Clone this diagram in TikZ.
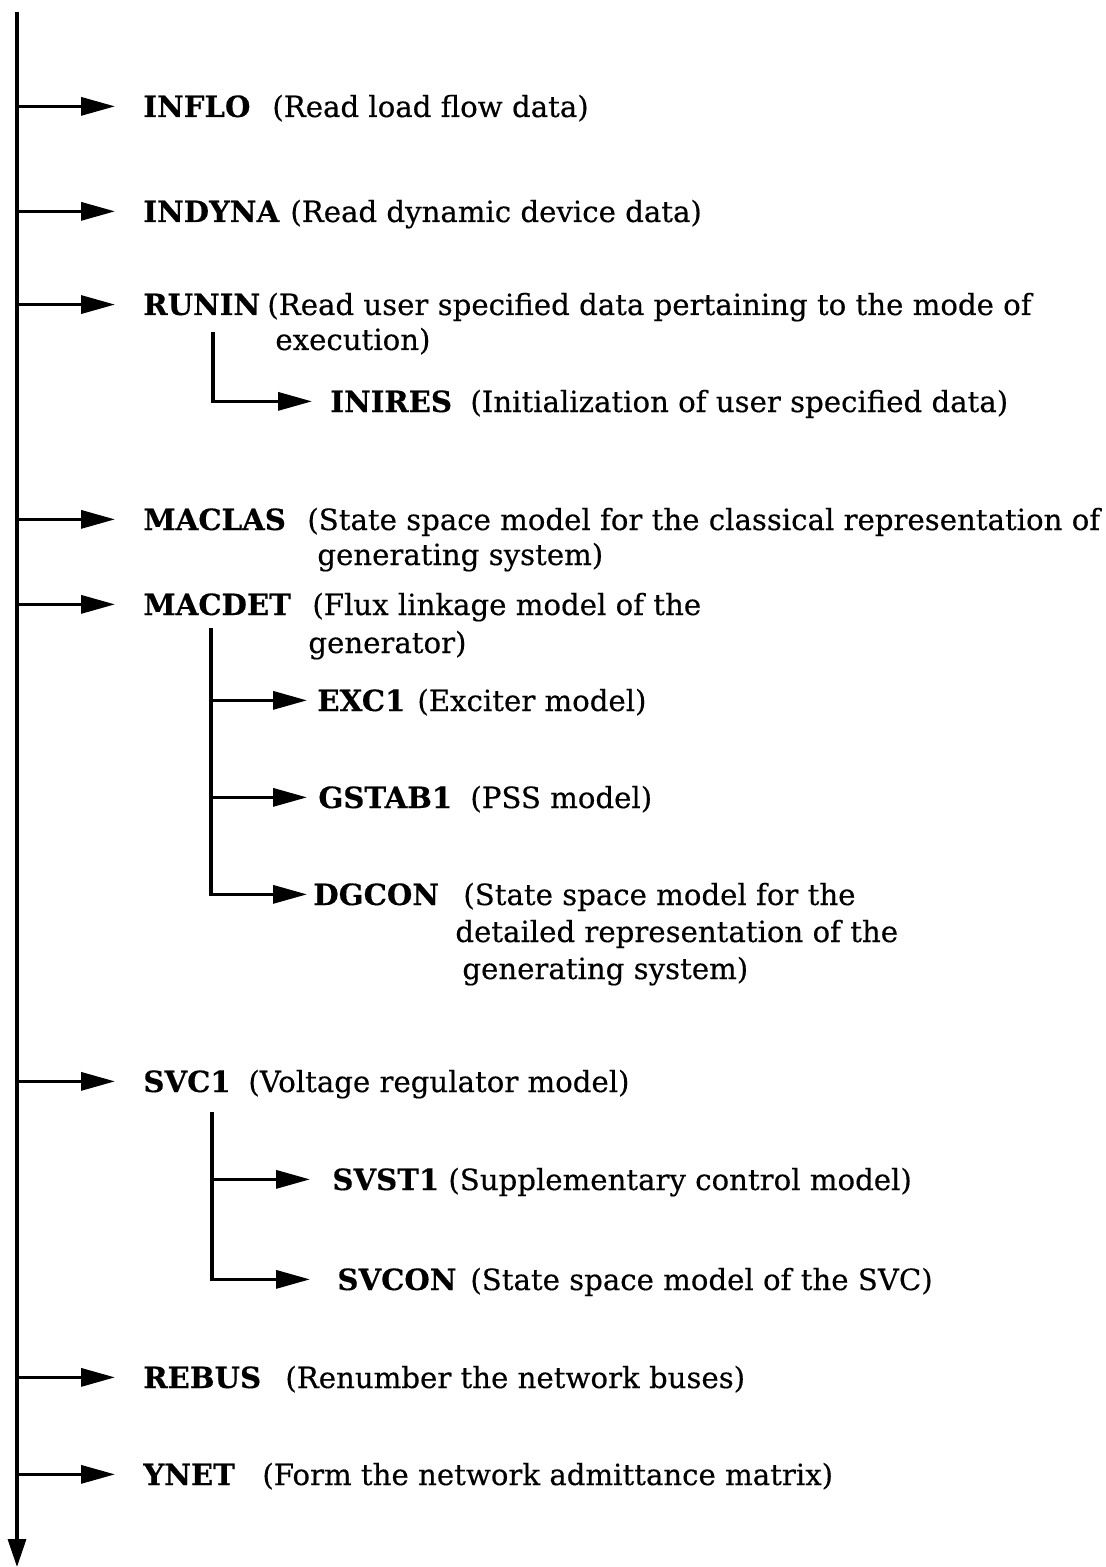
\documentclass[tikz,border=0pt]{standalone}
\usepackage{fontspec}
\setmainfont{DejaVu Serif}[FakeBold=0.4]
\usetikzlibrary{arrows.meta}
\begin{document}
\begin{tikzpicture}[x=0.5pt,y=-0.5pt,
  txt/.style={anchor=base west, inner sep=0pt, font=\fontsize{14.6pt}{17pt}\selectfont},
  modname/.style={txt, font=\fontsize{14.6pt}{17pt}\selectfont\bfseries},
  link/.style={line width=1.7pt},
  tip/.style={link, -{Triangle[length=17pt,width=9pt]}}]
\useasboundingbox (0,0) rectangle (1105,1567);

% main program flow
\coordinate (top) at (17,12);
\coordinate (bot) at (17,1567);
\draw[link, -{Triangle[length=14pt,width=9pt]}] (top) -- (bot);

% top-level routines
\node[modname] (inflo)  at (143,117)  {INFLO};
\node[txt]     (inflo-d) at (272,117) {(Read load flow data)};

\node[modname] (indyna) at (143,222)  {INDYNA};
\node[txt]     (indyna-d) at (290,222) {(Read dynamic device data)};

\node[modname] (runin)  at (143,315)  {RUNIN};
\node[txt]     (runin-d) at (267,315) {(Read user specified data pertaining to the mode of};
\node[txt]     (runin-d2) at (275,350) {execution)};

\node[modname] (inires) at (330,412)  {INIRES};
\node[txt]     (inires-d) at (470,412) {(Initialization of user specified data)};

\node[modname] (maclas) at (143,530)  {MACLAS};
\node[txt]     (maclas-d) at (307,530) {(State space model for the classical representation of};
\node[txt]     (maclas-d2) at (317,565) {generating system)};

\node[modname] (macdet) at (143,615)  {MACDET};
\node[txt]     (macdet-d) at (312,615) {(Flux linkage model of the};
\node[txt]     (macdet-d2) at (308,653) {generator)};

\node[modname] (exc1)   at (317,711)  {EXC1};
\node[txt]     (exc1-d) at (417,711)  {(Exciter model)};

\node[modname] (gstab1) at (318,808)  {GSTAB1};
\node[txt]     (gstab1-d) at (470,808) {(PSS model)};

\node[modname] (dgcon)  at (313,905)  {DGCON};
\node[txt]     (dgcon-d) at (463,905) {(State space model for the};
\node[txt]     (dgcon-d2) at (455,942) {detailed representation of the};
\node[txt]     (dgcon-d3) at (462,979) {generating system)};

\node[modname] (svc1)   at (143,1092) {SVC1};
\node[txt]     (svc1-d) at (248,1092) {(Voltage regulator model)};

\node[modname] (svst1)  at (332,1190) {SVST1};
\node[txt]     (svst1-d) at (448,1190) {(Supplementary control model)};

\node[modname] (svcon)  at (337,1290) {SVCON};
\node[txt]     (svcon-d) at (470,1290) {(State space model of the SVC)};

\node[modname] (rebus)  at (143,1388) {REBUS};
\node[txt]     (rebus-d) at (285,1388) {(Renumber the network buses)};

\node[modname] (ynet)   at (143,1485) {YNET};
\node[txt]     (ynet-d) at (262,1485) {(Form the network admittance matrix)};

% calls from the main flow
\foreach \m in {inflo,indyna,runin,maclas,macdet,svc1,rebus,ynet}
  \draw[tip] (top |- \m.west) -- ([xshift=-14pt]\m.west);

% RUNIN sub-call
\coordinate (runin-s) at (213,332);
\draw[tip] (runin-s) |- ([xshift=-9pt]inires.west);

% MACDET sub-calls
\coordinate (macdet-s) at (211,628);
\draw[tip] (macdet-s) |- ([xshift=-3pt]dgcon.west);
\draw[tip] (macdet-s |- exc1.west) -- ([xshift=-5pt]exc1.west);
\draw[tip] (macdet-s |- gstab1.west) -- ([xshift=-5.5pt]gstab1.west);

% SVC1 sub-calls
\coordinate (svc-s) at (212,1112);
\draw[tip] (svc-s) |- ([xshift=-13.5pt]svcon.west);
\draw[tip] (svc-s |- svst1.west) -- ([xshift=-11pt]svst1.west);
\end{tikzpicture}
\end{document}
